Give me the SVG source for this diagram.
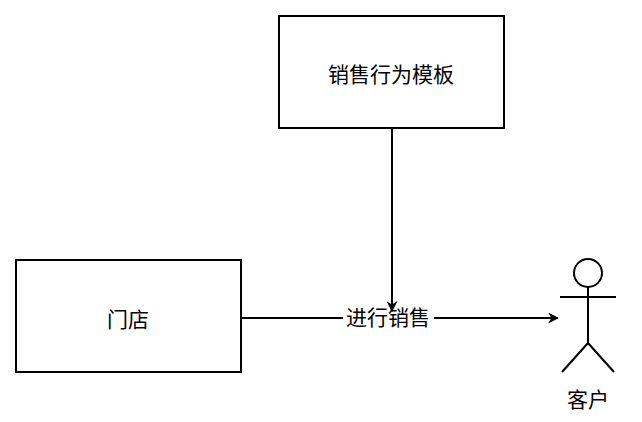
<svg xmlns="http://www.w3.org/2000/svg" width="642" height="422" viewBox="0 0 642 422">
<style>
.box{fill:#fff;stroke:#000;stroke-width:2}
.ln{fill:none;stroke:#000;stroke-width:2}
text{font-family:"Noto Sans CJK SC","Liberation Sans",sans-serif;font-size:21px;fill:#000;text-anchor:middle;dominant-baseline:central}
</style>
<defs>
<marker id="arr" viewBox="0 0 10 10" refX="9" refY="5" markerWidth="11" markerHeight="11" markerUnits="userSpaceOnUse" orient="auto">
<path d="M0,0 L10,5 L0,10 L3,5 Z" fill="#000"/>
</marker>
</defs>
<rect width="642" height="422" fill="#fff"/>
<g id="connectors">
<path class="ln" d="M241,318 H558" marker-end="url(#arr)"/>
<rect x="343" y="304" width="91" height="26" fill="#fff"/>
<text x="388" y="316">进行销售</text>
<path class="ln" d="M392,128 V311" marker-end="url(#arr)"/>
</g>
<g id="template"><rect class="box" x="279" y="16" width="225" height="112"/><text x="391" y="73">销售行为模板</text></g>
<g id="store"><rect class="box" x="16" y="260" width="225" height="112"/><text x="128" y="318">门店</text></g>
<g id="customer">
<circle cx="588" cy="273" r="14" class="ln" fill="#fff"/>
<path class="ln" d="M588,287 V343 M560,297 H616 M588,343 L562,372 M588,343 L614,372"/>
<text x="588" y="398">客户</text>
</g>
</svg>
